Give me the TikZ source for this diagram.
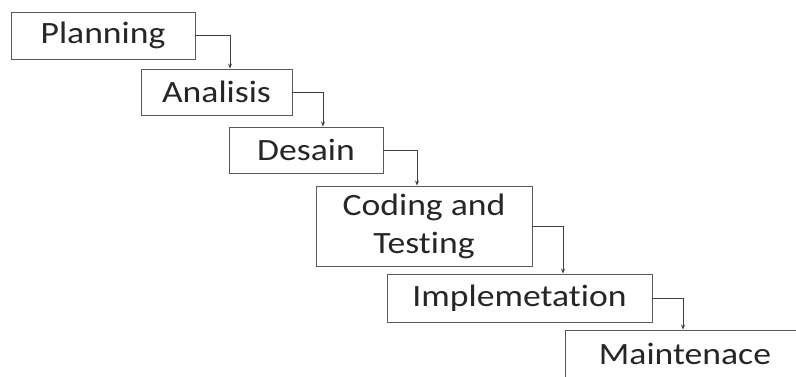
\documentclass[tikz,border=0pt]{standalone}
\usepackage{fontspec}
\setmainfont{Carlito}[FakeStretch=1.15, Ligatures=NoCommon]
\usetikzlibrary{arrows.meta}

\begin{document}
\begin{tikzpicture}[x=1pt,y=-1pt,
		phase/.style={draw=black!65, line width=0.9pt, fill=white, text=black!85,
			inner sep=0pt, align=center, font=\fontsize{31}{38}\selectfont},
		flow/.style={draw=black!75, line width=0.8pt, -{Stealth[length=5pt,width=4pt]}}]
		%%%%% START %%%%%
		\clip (0, 0) rectangle (796, 376);
		\useasboundingbox (0, 0) rectangle (796, 376);
		
		\node[phase, minimum width=184, minimum height=47] (plan) at (103, 35.5) {Planning};
		\node[phase, minimum width=151, minimum height=46] (anal) at (216.5, 92) {Analisis};
		\node[phase, minimum width=154, minimum height=46] (desn) at (306, 150) {Desain};
		\node[phase, minimum width=216, minimum height=80] (code) at (424, 226) {Coding and\\Testing};
		\node[phase, minimum width=265, minimum height=48] (impl) at (519.5, 298) {Implemetation};
		\node[phase, minimum width=240, minimum height=48] (mant) at (685, 354) {Maintenace};
		
		\draw[flow] (plan.east) -| ([xshift=13.5]anal.north);
		\draw[flow] (anal.east) -| ([xshift=17]desn.north);
		\draw[flow] (desn.east) -| ([xshift=-7]code.north);
		\draw[flow] (code.east) -| ([xshift=43.5]impl.north);
		\draw[flow] (impl.east) -| ([xshift=-2]mant.north);
		%%%%% END %%%%%
	\end{tikzpicture}
\end{document}
